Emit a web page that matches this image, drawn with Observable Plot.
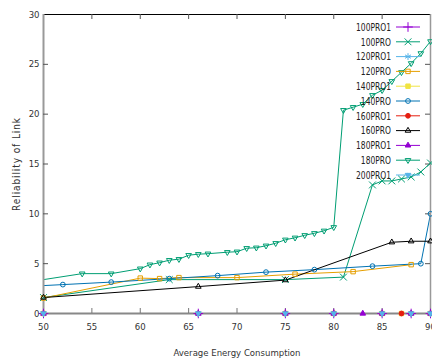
<!DOCTYPE html>
<html><head><meta charset="utf-8">
<script src="https://cdn.jsdelivr.net/npm/d3@7"></script>
<script src="https://cdn.jsdelivr.net/npm/@observablehq/plot@0.6"></script>
<style>
body{margin:0;background:#fff;}
#wrap{position:relative;width:432px;height:358px;}
#legend{position:absolute;left:0;top:0;pointer-events:none;}
</style></head><body><div id="wrap"></div>
<script>
// ---- data ----
const names   = ["100PRO1","100PRO","120PRO1","120PRO","140PRO1","140PRO","160PRO1","160PRO","180PRO1","180PRO","200PRO1"];
const colors  = ["#9400d3","#009e73","#56b4e9","#e69f00","#f0e442","#0072b2","#e51e10","#000000","#9400d3","#009e73","#56b4e9"];
const markers = ["plus","times","asterisk","square","square","circle","circle","triangle","triangle","triangleDown","triangleDown"];
const filled  = [false,false,false,false,true,false,true,false,true,false,true];

const x100PRO1 = [50,66,75,80,85,88,90];
const y100PRO1 = [0,0,0,0,0,0,0];
const x100PRO  = [50,63,75,81,84,85,86,87,88,89,90];
const y100PRO  = [1.6,3.4,3.4,3.65,12.9,13.3,13.3,13.5,13.7,14.2,15.1];
const x120PRO1 = [50,66,75,80,85,88,90];
const y120PRO1 = [0,0,0,0,0,0,0];
const x120PRO  = [50,60,62,64,70,76,82,88];
const y120PRO  = [1.55,3.55,3.5,3.6,3.6,3.95,4.2,4.9];
const x140PRO1 = [50,75,80,85,87,90];
const y140PRO1 = [0,0,0,0,0,0];
const x140PRO  = [48,52,57,63,68,73,78,84,89,90];
const y140PRO  = [2.7,2.9,3.15,3.5,3.8,4.15,4.4,4.75,5.0,10.0];
const x160PRO1 = [50,66,75,80,85,87,88,90];
const y160PRO1 = [0,0,0,0,0,0,0,0];
const x160PRO  = [50,66,75,86,88,90];
const y160PRO  = [1.6,2.7,3.35,7.15,7.25,7.25];
const x180PRO1 = [50,66,75,80,83,85,88,90];
const y180PRO1 = [0,0,0,0,0,0,0,0];
const x180PRO  = [48,54,57,60,61,62,63,64,65,66,67,69,70,71,72,73,74,75,76,77,78,79,80,81,82,83,84,85,86,87,88,89,90];
const y180PRO  = [3.1,4.0,4.0,4.5,4.9,5.1,5.35,5.45,5.85,5.95,6.0,6.15,6.2,6.55,6.6,6.8,7.05,7.4,7.6,7.85,8.05,8.3,8.65,20.4,20.7,21.0,21.9,22.4,23.3,24.2,25.1,26.1,27.3];
const x200PRO1 = [50,66,75,80,85,88,90];
const y200PRO1 = [0,0,0,0,0,0,0];

const xTicks = [50,55,60,65,70,75,80,85,90];
const yTicks = [0,5,10,15,20,25,30];

const seriesX = [x100PRO1,x100PRO,x120PRO1,x120PRO,x140PRO1,x140PRO,x160PRO1,x160PRO,x180PRO1,x180PRO,x200PRO1];
const seriesY = [y100PRO1,y100PRO,y120PRO1,y120PRO,y140PRO1,y140PRO,y160PRO1,y160PRO,y180PRO1,y180PRO,y200PRO1];

// ---- symbols ----
const sqrt3 = Math.sqrt(3);
const triangleDown = {draw(ctx, size){
  const y = -Math.sqrt(size / (sqrt3 * 3));
  ctx.moveTo(0, -y * 2);
  ctx.lineTo(-sqrt3 * y, y);
  ctx.lineTo(sqrt3 * y, y);
  ctx.closePath();
}};
function symOf(m){ return m === "triangleDown" ? triangleDown : m; }
const rOf = {plus:3.2, times:3.2, asterisk:3.2, square:2.5, circle:2.4, triangle:2.1, triangleDown:2.1};

const rows = names.map((n,i)=> seriesX[i].map((x,j)=>({s:n, x, y: seriesY[i][j]})));

const marks = [];
names.forEach((n,i)=>{
  marks.push(Plot.line(rows[i], {x:"x", y:"y", stroke: colors[i], strokeWidth: 1, clip: true}));
});
// border
marks.push(Plot.ruleY([30], {stroke:"#000", strokeWidth:1}));
marks.push(Plot.ruleX([90], {stroke:"#999", strokeWidth:1.5}));
marks.push(Plot.ruleX([50], {stroke:"#999", strokeWidth:2}));
marks.push(Plot.ruleY([0], {stroke:"#888", strokeWidth:2}));
// inward ticks
const xi = xTicks.slice(1,-1), yi = yTicks.slice(1,-1);
marks.push(Plot.tickX(xi, {x: d=>d, insetTop: 294, stroke:"#777"}));
marks.push(Plot.tickX(xi, {x: d=>d, insetBottom: 294, stroke:"#555"}));
marks.push(Plot.tickY(yi, {y: d=>d, insetRight: 382, stroke:"#555"}));
marks.push(Plot.tickY(yi, {y: d=>d, insetLeft: 382, stroke:"#555"}));
// points
names.forEach((n,i)=>{
  const m = markers[i];
  marks.push(Plot.dot(rows[i].filter(d=>d.x>=50), {
    x:"x", y:"y", symbol: symOf(m), r: rOf[m],
    fill: filled[i] ? colors[i] : "none",
    stroke: colors[i], strokeWidth: 1
  }));
});
marks.push(Plot.axisX({ticks: xTicks, tickSize: 0, tickPadding: 10, tickFormat: d=>String(d),
  label: "Average Energy Consumption", labelAnchor: "center", labelOffset: 42, labelArrow: "none"}));
marks.push(Plot.axisY({ticks: yTicks, tickSize: 0, tickPadding: 4, tickFormat: d=>String(d),
  label: "Reliability of Link", labelAnchor: "center", labelOffset: 31, labelArrow: "none"}));

const chart = Plot.plot({
  width: 432, height: 358,
  marginLeft: 43, marginRight: 2, marginTop: 14, marginBottom: 45,
  x: {domain: [50, 90]},
  y: {domain: [0, 30]},
  style: {fontFamily: "'DejaVu Sans Condensed','DejaVu Sans',sans-serif", fontSize: "9.5px", color: "#333", background: "#fff"},
  marks
});
const wrap = document.getElementById("wrap");
wrap.appendChild(chart);
d3.select(chart).selectAll('[aria-label="y-axis label"] text')
  .attr("font-size", "10px").style("letter-spacing", "0.9px");
d3.select(chart).selectAll('[aria-label="x-axis label"] text')
  .attr("font-size", "9.5px");

// ---- legend (inside plot, top right) ----
const lg = d3.select(wrap).append("svg").attr("id","legend").attr("width",432).attr("height",358);
const typeMap = {plus:d3.symbolPlus, times:d3.symbolTimes, asterisk:d3.symbolAsterisk, square:d3.symbolSquare, circle:d3.symbolCircle, triangle:d3.symbolTriangle, triangleDown: triangleDown};
names.forEach((n,i)=>{
  const cy = 27 + i*14.8;
  const g = lg.append("g").attr("transform",`translate(0,${cy})`);
  g.append("text").attr("transform","translate(391,0) scale(0.8,1)").attr("dy","0.36em").attr("text-anchor","end")
    .attr("font-family","'DejaVu Sans Condensed','DejaVu Sans',sans-serif").attr("font-size","10.5px")
    .attr("fill","#222").text(n);
  g.append("line").attr("x1",396).attr("x2",420).attr("y1",0).attr("y2",0).attr("stroke",colors[i]).attr("stroke-width",1);
  const m = markers[i];
  const r = rOf[m];
  g.append("path").attr("transform","translate(408,0)")
    .attr("d", d3.symbol(typeMap[m], Math.PI*r*r)())
    .attr("fill", filled[i] ? colors[i] : "none")
    .attr("stroke", colors[i]).attr("stroke-width",1);
});
</script></body></html>
